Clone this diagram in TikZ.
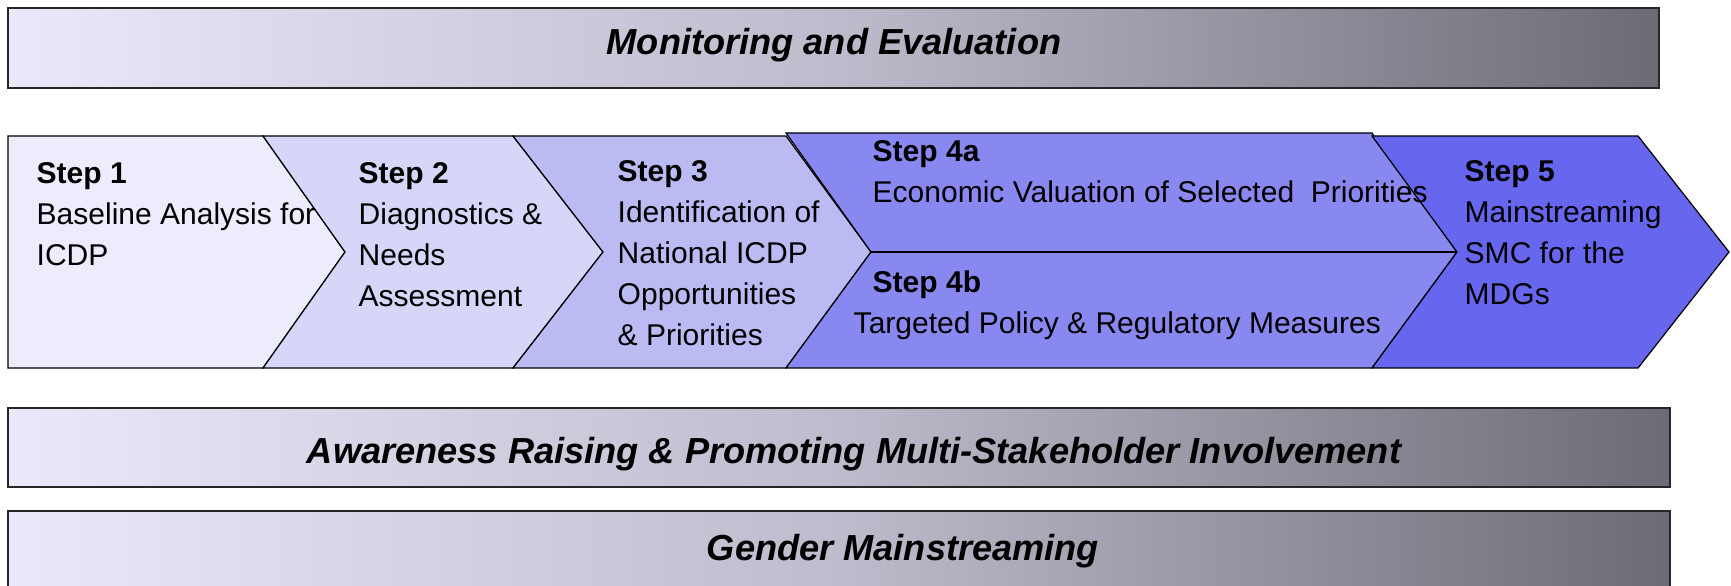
\documentclass[tikz,border=0pt]{standalone}
\usepackage{fontspec}
\setmainfont{Liberation Sans}
\definecolor{bandL}{RGB}{233,233,251}
\definecolor{bandM}{RGB}{188,188,204}
\definecolor{bandR}{RGB}{108,107,117}
\definecolor{stepA}{RGB}{236,236,252}
\definecolor{stepB}{RGB}{214,214,248}
\definecolor{stepC}{RGB}{187,187,244}
\definecolor{stepD}{RGB}{136,136,240}
\definecolor{stepE}{RGB}{102,102,238}
\begin{document}
\begin{tikzpicture}[
    x=0.1mm,
    y=-0.1mm,
    band/.style={draw=black!85, line width=0.7pt, left color=bandL, right color=bandR, middle color=bandM},
    bandtext/.style={font=\fontsize{10.3}{12}\selectfont\bfseries\itshape, anchor=base, inner sep=0pt},
    stepshape/.style={draw=black, line width=0.35pt},
    steptext/.style={font=\fontsize{8.54}{11.67}\selectfont, align=left, anchor=north west, inner sep=0pt}]
    \useasboundingbox (0,0) rectangle (1731,586);

    % Cross-cutting bands
    \draw[band] (8,8) rectangle (1659,88);
    \node[bandtext] (mon) at (834,55) {Monitoring and Evaluation};
    \draw[band] (8,408) rectangle (1670,487);
    \node[bandtext] (aware) at (854,463) {Awareness Raising \& Promoting Multi-Stakeholder Involvement};
    \draw[band] (8,511) rectangle (1670,600);
    \node[bandtext] (gender) at (903,560) {Gender Mainstreaming};

    % Chevron boundaries
    \coordinate (b1t) at (263,136);
    \coordinate (b1m) at (345,252);
    \coordinate (b1b) at (263,368);
    \coordinate (b2t) at (513,136);
    \coordinate (b2m) at (603,252);
    \coordinate (b2b) at (513,368);
    \coordinate (b3t) at (786,133);
    \coordinate (b3m) at (871,252);
    \coordinate (b3b) at (786,368);
    \coordinate (b4t) at (1372,133);
    \coordinate (b4m) at (1457,252);
    \coordinate (b4b) at (1372,368);
    \coordinate (b5t) at (1638,136);
    \coordinate (b5m) at (1729,252);
    \coordinate (b5b) at (1638,368);

    % Steps
    \draw[stepshape, fill=stepA] (8,136) -- (b1t) -- (b1m) -- (b1b) -- (8,368) -- cycle;
    \draw[stepshape, fill=stepB] (b1t) -- (b2t) -- (b2m) -- (b2b) -- (b1b) -- (b1m) -- cycle;
    \draw[stepshape, fill=stepC] (b2t) -- (786,136) -- (b3m) -- (786,368) -- (b2b) -- (b2m) -- cycle;
    \draw[stepshape, fill=stepD] (b3t) -- (b4t) -- (b4m) -- (b4b) -- (b3b) -- (b3m) -- cycle;
    \draw[stepshape, fill=stepE] (1372,136) -- (b5t) -- (b5m) -- (b5b) -- (1372,368) -- (b4m) -- cycle;
    \draw[stepshape] (b3m) -- (b4m); % 4a / 4b split

    % Step labels
    \node[steptext] (s1) at (36,162) {\textbf{Step 1}\\Baseline Analysis for\\ICDP};
    \node[steptext] (s2) at (358,162) {\textbf{Step 2}\\Diagnostics \&\\Needs\\Assessment};
    \node[steptext] (s3) at (617,160) {\textbf{Step 3}\\Identification of\\National ICDP\\Opportunities\\\& Priorities};
    \node[steptext] (s4a) at (872,140) {\textbf{Step 4a}\\Economic Valuation of Selected\ \ Priorities};
    \node[steptext] (s4b) at (853,270) {\hspace*{1.9mm}\textbf{Step 4b}\\Targeted Policy \& Regulatory Measures};
    \node[steptext] (s5) at (1464,160) {\textbf{Step 5}\\Mainstreaming\\SMC for the\\MDGs};
\end{tikzpicture}
\end{document}
